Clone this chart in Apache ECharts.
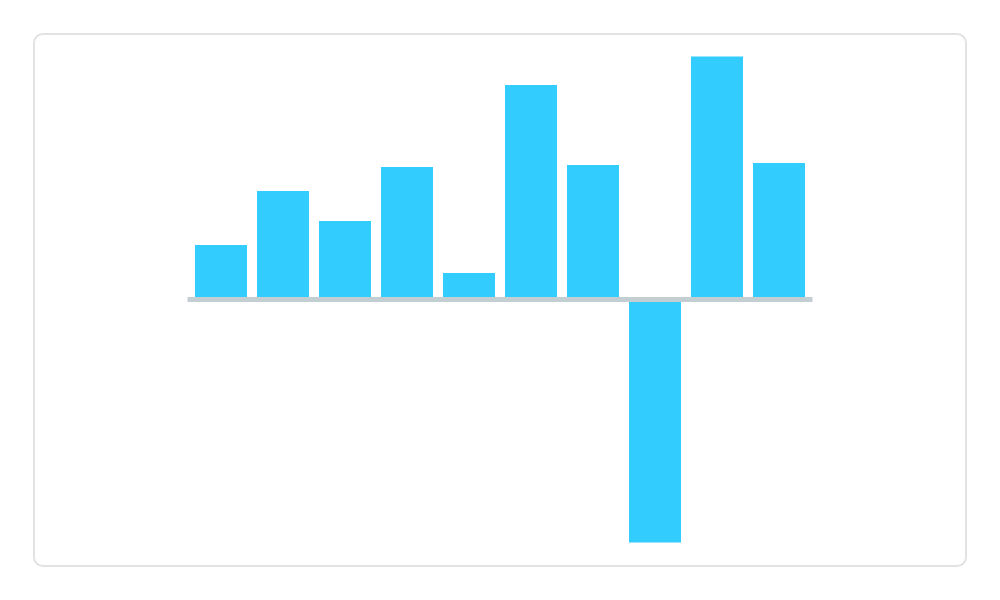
<!DOCTYPE html>
<html>
<head>
<meta charset="utf-8">
<script src="https://cdn.jsdelivr.net/npm/echarts@6/dist/echarts.min.js"></script>
<style>
html,body{margin:0;padding:0;background:#fff;width:1000px;height:600px;overflow:hidden;}
#card{position:absolute;left:33px;top:33px;width:930px;height:530px;border:2px solid #e2e2e2;border-radius:10px;box-sizing:content-box;}
#chart{position:absolute;left:0;top:0;width:1000px;height:600px;}
</style>
</head>
<body>
<div id="card"></div>
<div id="chart"></div>
<script>
const categories = ['A','B','C','D','E','F','G','H','I','J'];
const values = [2.24, 4.47, 3.23, 5.45, 1.09, 8.83, 5.53, -10, 10, 5.62];
const yMin = -10, yMax = 10;

const chart = echarts.init(document.getElementById('chart'), null, {renderer:'canvas'});
chart.setOption({
  animation:false,
  grid:{left:190, top:56.5, width:620, height:486, containLabel:false},
  xAxis:{
    type:'category', data:categories,
    axisLine:{show:true, onZero:true, lineStyle:{color:'#c3ced3', width:5, cap:'square'}},
    axisTick:{show:false}, axisLabel:{show:false}, splitLine:{show:false}, z:10
  },
  yAxis:{
    type:'value', min:yMin, max:yMax,
    axisLine:{show:false}, axisTick:{show:false}, axisLabel:{show:false}, splitLine:{show:false}
  },
  series:[{
    type:'bar', data:values, barWidth:52,
    itemStyle:{color:'#33ccff'}, z:2
  }]
});
</script>
</body>
</html>
